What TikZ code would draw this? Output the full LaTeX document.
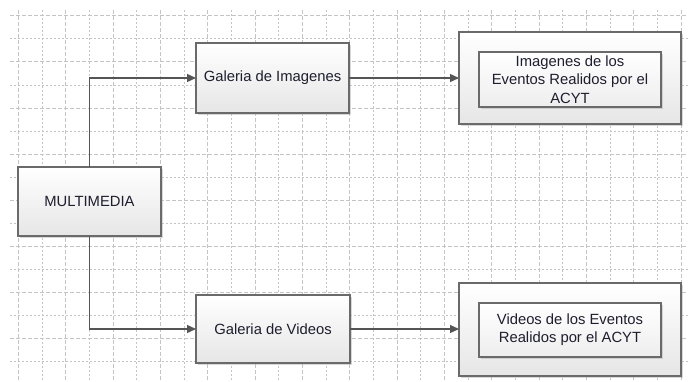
\documentclass[tikz,border=0pt]{standalone}
\usepackage{fontspec}
\setmainfont{Liberation Sans}
\usetikzlibrary{arrows.meta,shadows}
\definecolor{gridc}{HTML}{C4C4C4}
\definecolor{edgec}{HTML}{6A6A6A}
\definecolor{linec}{HTML}{555555}
\definecolor{txtc}{HTML}{1E1E2E}
\definecolor{botc}{HTML}{E6E6E6}
\tikzset{
  gridA/.style={gridc, line width=0.8pt, dash pattern=on 4pt off 2pt},
  gridB/.style={gridc, line width=0.8pt, dash pattern=on 2pt off 2pt},
  boxbase/.style={draw=edgec, line width=1.2pt, top color=white, bottom color=botc,
    drop shadow={shadow xshift=2pt, shadow yshift=-2pt, fill=gray!60, opacity=0.5},
    inner sep=0pt, outer sep=0pt, text=txtc, align=center,
    font=\fontsize{14.8}{18.3}\selectfont},
  innerbox/.style={draw=edgec, line width=1.2pt, top color=white, bottom color=botc!70!white,
    drop shadow={shadow xshift=1.5pt, shadow yshift=-1.5pt, fill=gray!60, opacity=0.5},
    inner sep=0pt, outer sep=0pt, text=txtc, align=center,
    font=\fontsize{14.8}{18.3}\selectfont},
  conn/.style={linec, line width=1.3pt, -{Triangle[length=9pt,width=8pt]}},
}
\begin{document}
\begin{tikzpicture}[x=1pt,y=-1pt]
\useasboundingbox (0,0) rectangle (688,381);
\fill[white] (0,0) rectangle (688,381);
% grid
\foreach \k in {0,...,28}{
  \pgfmathsetmacro{\gx}{18.3+23.67*\k}
  \ifodd\k
    \draw[gridB] (\gx,10) -- (\gx,381);
  \else
    \draw[gridA] (\gx,10) -- (\gx,381);
  \fi
}
\foreach \k in {0,...,15}{
  \pgfmathsetmacro{\gy}{15.7+23.07*\k}
  \ifodd\k
    \draw[gridB] (10,\gy) -- (688,\gy);
  \else
    \draw[gridA] (10,\gy) -- (688,\gy);
  \fi
}
% boxes
\node[boxbase, minimum width=143pt, minimum height=69pt] (mm) at (89.5,201.5) {MULTIMEDIA};
\node[boxbase, minimum width=153pt, minimum height=70pt] (gi) at (272.5,78) {Galeria de Imagenes};
\node[boxbase, minimum width=154pt, minimum height=68pt] (gv) at (273,329) {Galeria de Videos};
\node[boxbase, minimum width=222pt, minimum height=92pt] (to) at (570,78) {};
\node[innerbox, minimum width=182pt, minimum height=55pt] (ti) at (570,79.5) {Imagenes de los\\Eventos Realidos por el\\ACYT};
\node[boxbase, minimum width=222pt, minimum height=93pt] (bo) at (570,329.5) {};
\node[innerbox, minimum width=182pt, minimum height=54pt] (bi) at (570,330) {Videos de los Eventos\\Realidos por el ACYT};
% connectors
\draw[conn] (mm.north) |- (gi.west);
\draw[conn] (mm.south) |- (gv.west);
\draw[conn] (gi.east) -- (gi.east -| to.west);
\draw[conn] (gv.east) -- (gv.east -| bo.west);
\end{tikzpicture}
\end{document}
